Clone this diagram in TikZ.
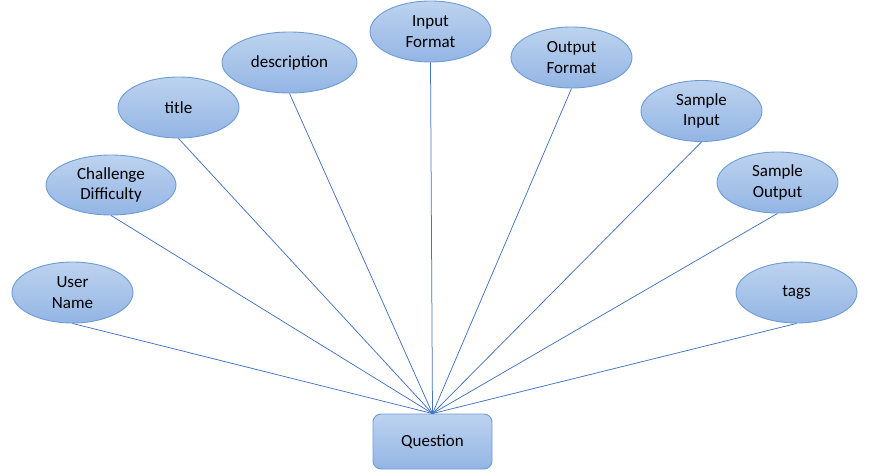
\documentclass[tikz,border=0pt]{standalone}
\usepackage{fontspec}
\setmainfont{Carlito}
\usetikzlibrary{shapes.geometric}
\definecolor{topc}{HTML}{BDD3EF}
\definecolor{botc}{HTML}{93B5E4}
\definecolor{edgec}{HTML}{6E9BD6}
\definecolor{linec}{HTML}{4472C4}
\tikzset{
  attr/.style={ellipse, draw=edgec, line width=0.9pt, top color=topc, bottom color=botc,
    minimum width=121pt, minimum height=61pt, inner sep=0pt, align=center,
    font=\fontsize{17}{20.5}\selectfont},
  entity/.style={rectangle, rounded corners=8pt, draw=edgec, line width=0.9pt, top color=topc, bottom color=botc,
    minimum width=119pt, minimum height=55pt, inner sep=0pt, align=center,
    font=\fontsize{17}{20.5}\selectfont},
  conn/.style={draw=linec, line width=0.75pt}
}
\begin{document}
\begin{tikzpicture}[x=1pt,y=-1pt]
\useasboundingbox (0,0) rectangle (879,472);
\node[entity] (q) at (432.5,441.5) {Question};
\node[attr] (un) at (72.5,292.5) {User\\Name};
\node[attr, minimum width=130pt, minimum height=60pt] (cd) at (111,185) {Challenge\\Difficulty};
\node[attr] (ti) at (178.5,107.5) {title};
\node[attr, minimum width=135pt] (de) at (289.5,62.5) {description};
\node[attr] (inf) at (430.5,31.5) {Input\\Format};
\node[attr] (of) at (571.5,57.5) {Output\\Format};
\node[attr] (si) at (701.5,111) {Sample\\Input};
\node[attr] (so) at (777.5,182.5) {Sample\\Output};
\node[attr] (tg) at (796.5,292.5) {tags};
\foreach \n in {un,cd,ti,de,inf,of,si,so,tg}
  \draw[conn] (\n.south) -- (q.north);
\end{tikzpicture}
\end{document}
